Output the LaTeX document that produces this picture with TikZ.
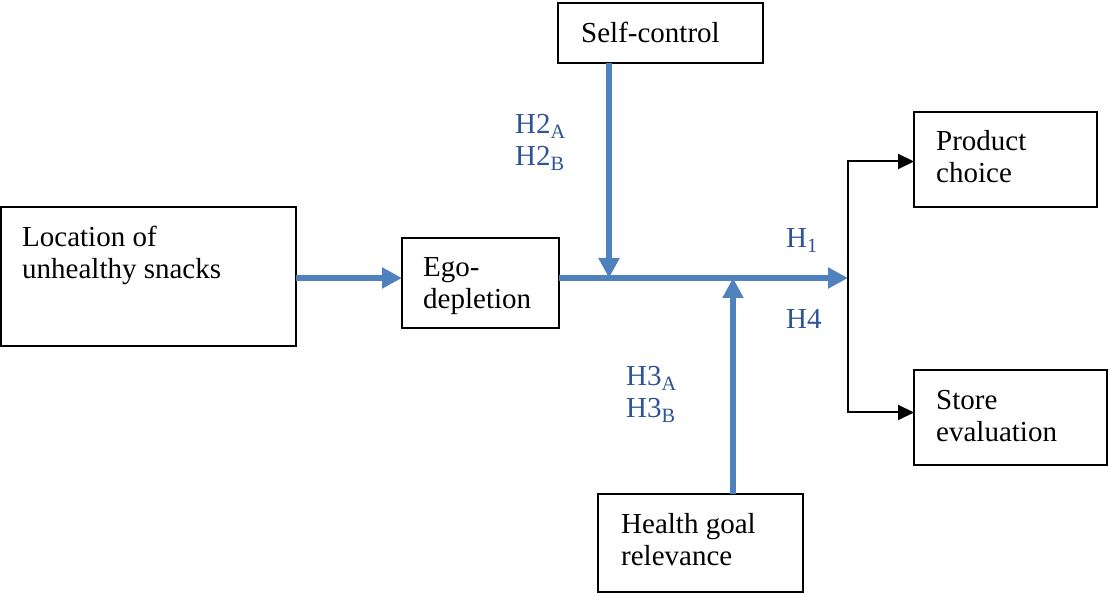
\documentclass[tikz,border=0pt]{standalone}
\usepackage{fontspec}
\setmainfont{Liberation Serif}
\usetikzlibrary{arrows.meta, positioning}
\definecolor{flowblue}{HTML}{4F81BD}
\definecolor{hypblue}{HTML}{2F5496}
\tikzset{
    cbox/.style={
        rectangle, draw=black, line width=1.2pt,
        anchor=north west, inner sep=0pt, outer sep=0pt
    },
    boxtext/.style={
        anchor=north west, inner sep=0pt, align=left,
        font=\fontsize{29}{32}\selectfont
    },
    hyplab/.style={
        anchor=north west, inner sep=0pt, align=left, text=hypblue,
        font=\fontsize{29}{32}\selectfont
    },
    mainarrow/.style={
        -{Triangle[length=20pt, width=20pt]}, line width=5.5pt, color=flowblue
    },
    outarrow/.style={
        -{Triangle[length=16pt, width=15pt]}, line width=2pt, color=black
    },
}

\begin{document}
\begin{tikzpicture}[x=1pt, y=-1pt, node distance=19pt and 21pt]

    \useasboundingbox (0,0) rectangle (1109,593);

    % Boxes
    \node[cbox, minimum width=295pt, minimum height=139pt] (loc) at (1,207) {};
    \node[cbox, minimum width=157pt, minimum height=90pt] (ego) at (402,238) {};
    \node[cbox, minimum width=205pt, minimum height=60pt] (self) at (558,3) {};
    \node[cbox, minimum width=205pt, minimum height=98pt] (health) at (598,494) {};
    \node[cbox, minimum width=183pt, minimum height=95pt] (prod) at (914,112) {};
    \node[cbox, minimum width=193pt, minimum height=95pt] (store) at (914,370) {};

    % Box texts
    \node[boxtext, below right=of loc.north west] (loc-txt) {Location of\\unhealthy snacks};
    \node[boxtext, below right=of ego.north west] (ego-txt) {Ego-\\depletion};
    \node[boxtext, below right=19pt and 23pt of self.north west] (self-txt) {Self-control};
    \node[boxtext, below right=19pt and 23pt of health.north west] (health-txt) {Health goal\\relevance};
    \node[boxtext, below right=18pt and 22pt of prod.north west] (prod-txt) {Product\\choice};
    \node[boxtext, below right=20pt and 22pt of store.north west] (store-txt) {Store\\evaluation};

    % Junctions on the main line
    \coordinate (fork) at (848,278);
    \coordinate (sc-in) at (609,278);
    \coordinate (hg-in) at (733,278);

    % Blue arrows
    \draw[mainarrow] (loc.east |- fork) -- (ego.west |- fork);
    \draw[mainarrow] (ego.east |- fork) -- (fork);
    \draw[mainarrow] (sc-in |- self.south) -- (sc-in);
    \draw[mainarrow] (hg-in |- health.north) -- (hg-in);

    % Outcome branches
    \draw[outarrow] (fork) |- ([yshift=-2pt]prod.west);
    \draw[outarrow] (fork) |- ([yshift=5pt]store.west);

    % Hypothesis labels
    \node[hyplab] (h2) at (515,114) {H2\textsubscript{A}\\H2\textsubscript{B}};
    \node[hyplab] (h3) at (626,366) {H3\textsubscript{A}\\H3\textsubscript{B}};
    \node[hyplab] (h1) at (786,228) {H\textsubscript{1}};
    \node[hyplab] (h4) at (786,309) {H4};

\end{tikzpicture}
\end{document}
